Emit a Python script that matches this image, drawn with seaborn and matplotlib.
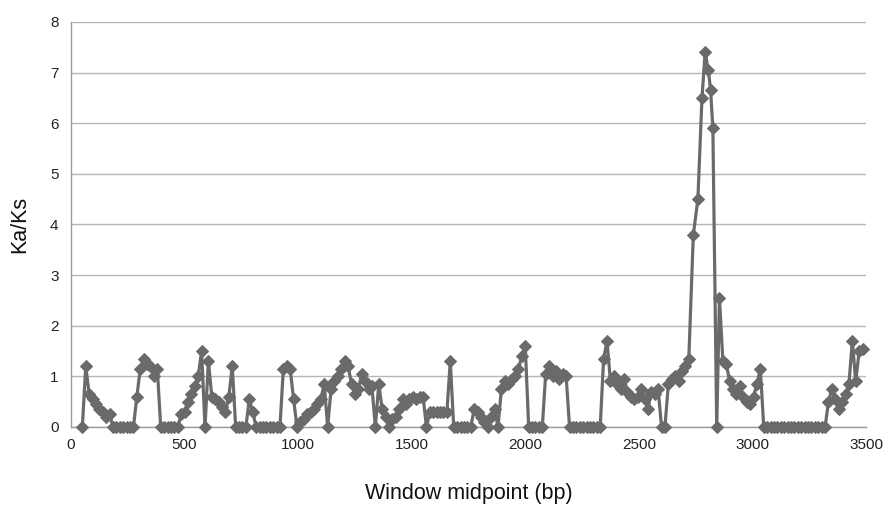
import matplotlib
matplotlib.use("Agg")
import matplotlib.pyplot as plt
import seaborn as sns
import pandas as pd

window_mid = [
    50, 65, 80, 95, 110, 125, 140, 155, 170, 185,
    200, 215, 230, 245, 260, 275, 290, 305, 320, 335,
    350, 365, 380, 395, 410, 425, 440, 455, 470, 485,
    500, 515, 530, 545, 560, 575, 590, 605, 620, 635,
    650, 665, 680, 695, 710, 725, 740, 755, 770, 785,
    800, 815, 830, 845, 860, 875, 890, 905, 920, 935,
    950, 965, 980, 995, 1010, 1025, 1040, 1055, 1070, 1085,
    1100, 1115, 1130, 1145, 1160, 1175, 1190, 1205, 1220, 1235,
    1250, 1265, 1280, 1295, 1310, 1325, 1340, 1355, 1370, 1385,
    1400, 1415, 1430, 1445, 1460, 1475, 1490, 1505, 1520, 1535,
    1550, 1565, 1580, 1595, 1610, 1625, 1640, 1655, 1670, 1685,
    1700, 1715, 1730, 1745, 1760, 1775, 1790, 1805, 1820, 1835,
    1850, 1865, 1880, 1895, 1910, 1925, 1940, 1955, 1970, 1985,
    2000, 2015, 2030, 2045, 2060, 2075, 2090, 2105, 2120, 2135,
    2150, 2165, 2180, 2195, 2210, 2225, 2240, 2255, 2270, 2285,
    2300, 2315, 2330, 2345, 2360, 2375, 2390, 2405, 2420, 2435,
    2450, 2465, 2480, 2495, 2510, 2525, 2540, 2555, 2570, 2585,
    2600, 2615, 2630, 2645, 2660, 2675, 2690, 2705, 2720, 2740,
    2760, 2778, 2792, 2806, 2816, 2826, 2843, 2855, 2870, 2885,
    2900, 2915, 2930, 2945, 2960, 2975, 2990, 3005, 3020, 3035,
    3050, 3065, 3080, 3095, 3110, 3125, 3140, 3155, 3170, 3185,
    3200, 3215, 3230, 3245, 3260, 3275, 3290, 3305, 3320, 3335,
    3350, 3365, 3380, 3395, 3410, 3425, 3440, 3455, 3470, 3485,
]

ka_ks = [
    0, 1.2, 0.65, 0.55, 0.45, 0.35, 0.3, 0.2, 0.25, 0,
    0, 0, 0, 0, 0, 0, 0.6, 1.15, 1.35, 1.25,
    1.2, 1.0, 1.15, 0, 0, 0, 0, 0, 0, 0.25,
    0.3, 0.5, 0.65, 0.8, 1.0, 1.5, 0, 1.3, 0.6, 0.55,
    0.5, 0.4, 0.3, 0.6, 1.2, 0, 0, 0, 0, 0.55,
    0.3, 0, 0, 0, 0, 0, 0, 0, 0, 1.15,
    1.2, 1.15, 0.55, 0, 0.1, 0.15, 0.25, 0.3, 0.35, 0.45,
    0.55, 0.85, 0, 0.75, 0.9, 1.0, 1.15, 1.3, 1.2, 0.85,
    0.65, 0.75, 1.05, 0.9, 0.75, 0.8, 0, 0.85, 0.35, 0.2,
    0, 0.15, 0.2, 0.35, 0.55, 0.45, 0.55, 0.6, 0.55, 0.6,
    0.6, 0, 0.3, 0.3, 0.3, 0.3, 0.3, 0.3, 1.3, 0,
    0, 0, 0, 0, 0, 0.35, 0.3, 0.2, 0.1, 0,
    0.2, 0.35, 0, 0.75, 0.9, 0.85, 0.95, 1.0, 1.15, 1.4,
    1.6, 0, 0, 0, 0, 0, 1.05, 1.2, 1.0, 1.1,
    0.95, 1.05, 1.0, 0, 0, 0, 0, 0, 0, 0,
    0, 0, 0, 1.35, 1.7, 0.9, 1.0, 0.85, 0.75, 0.95,
    0.7, 0.6, 0.55, 0.6, 0.75, 0.55, 0.35, 0.7, 0.65, 0.75,
    0, 0, 0.85, 0.95, 1.0, 0.9, 1.1, 1.2, 1.35, 3.8,
    4.5, 6.5, 7.4, 7.05, 6.65, 5.9, 0, 2.55, 1.3, 1.25,
    0.9, 0.75, 0.65, 0.8, 0.6, 0.5, 0.45, 0.6, 0.85, 1.15,
    0, 0, 0, 0, 0, 0, 0, 0, 0, 0,
    0, 0, 0, 0, 0, 0, 0, 0, 0, 0.5,
    0.75, 0.55, 0.35, 0.5, 0.65, 0.85, 1.7, 0.9, 1.5, 1.55,
]

x_ticks = [0, 500, 1000, 1500, 2000, 2500, 3000, 3500]
y_ticks = [0, 1, 2, 3, 4, 5, 6, 7, 8]

df = pd.DataFrame({"Window midpoint (bp)": window_mid, "Ka/Ks": ka_ks})

sns.set_style("white")
plt.rcParams["font.family"] = ["Liberation Sans", "DejaVu Sans"]

fig = plt.figure(figsize=(8.83, 5.11), dpi=100)
ax = fig.add_axes([0.0804, 0.1644, 0.9003, 0.7926])

line_color = "#6a6a6a"
sns.lineplot(data=df, x="Window midpoint (bp)", y="Ka/Ks", ax=ax,
             color=line_color, linewidth=2.3, marker="D", markersize=6.5,
             markeredgecolor=line_color, markerfacecolor=line_color, zorder=3,
             clip_on=False)

ax.set_xlim(0, 3500)
ax.set_ylim(0, 8)
ax.set_xticks(x_ticks)
ax.set_yticks(y_ticks)
ax.set_xticklabels([str(t) for t in x_ticks], fontsize=11, color="#222222")
ax.set_yticklabels([str(t) for t in y_ticks], fontsize=11, color="#222222")

ax.yaxis.grid(True, color="#b5b5b5", linewidth=1.0, zorder=0)
ax.xaxis.grid(False)
for s in ["top", "right"]:
    ax.spines[s].set_visible(False)
for s in ["left", "bottom"]:
    ax.spines[s].set_color("#9a9a9a")
    ax.spines[s].set_linewidth(1.0)
ax.tick_params(axis="both", which="both", direction="out", length=4,
               color="#9a9a9a", width=1.0, pad=5)
ax.tick_params(axis="x", pad=4)

ax.set_xlabel("Window midpoint (bp)", fontsize=15.5, color="#111111", labelpad=22)
ax.set_ylabel("Ka/Ks", fontsize=15.5, color="#111111", labelpad=14)

fig.savefig("out.png", dpi=100)
